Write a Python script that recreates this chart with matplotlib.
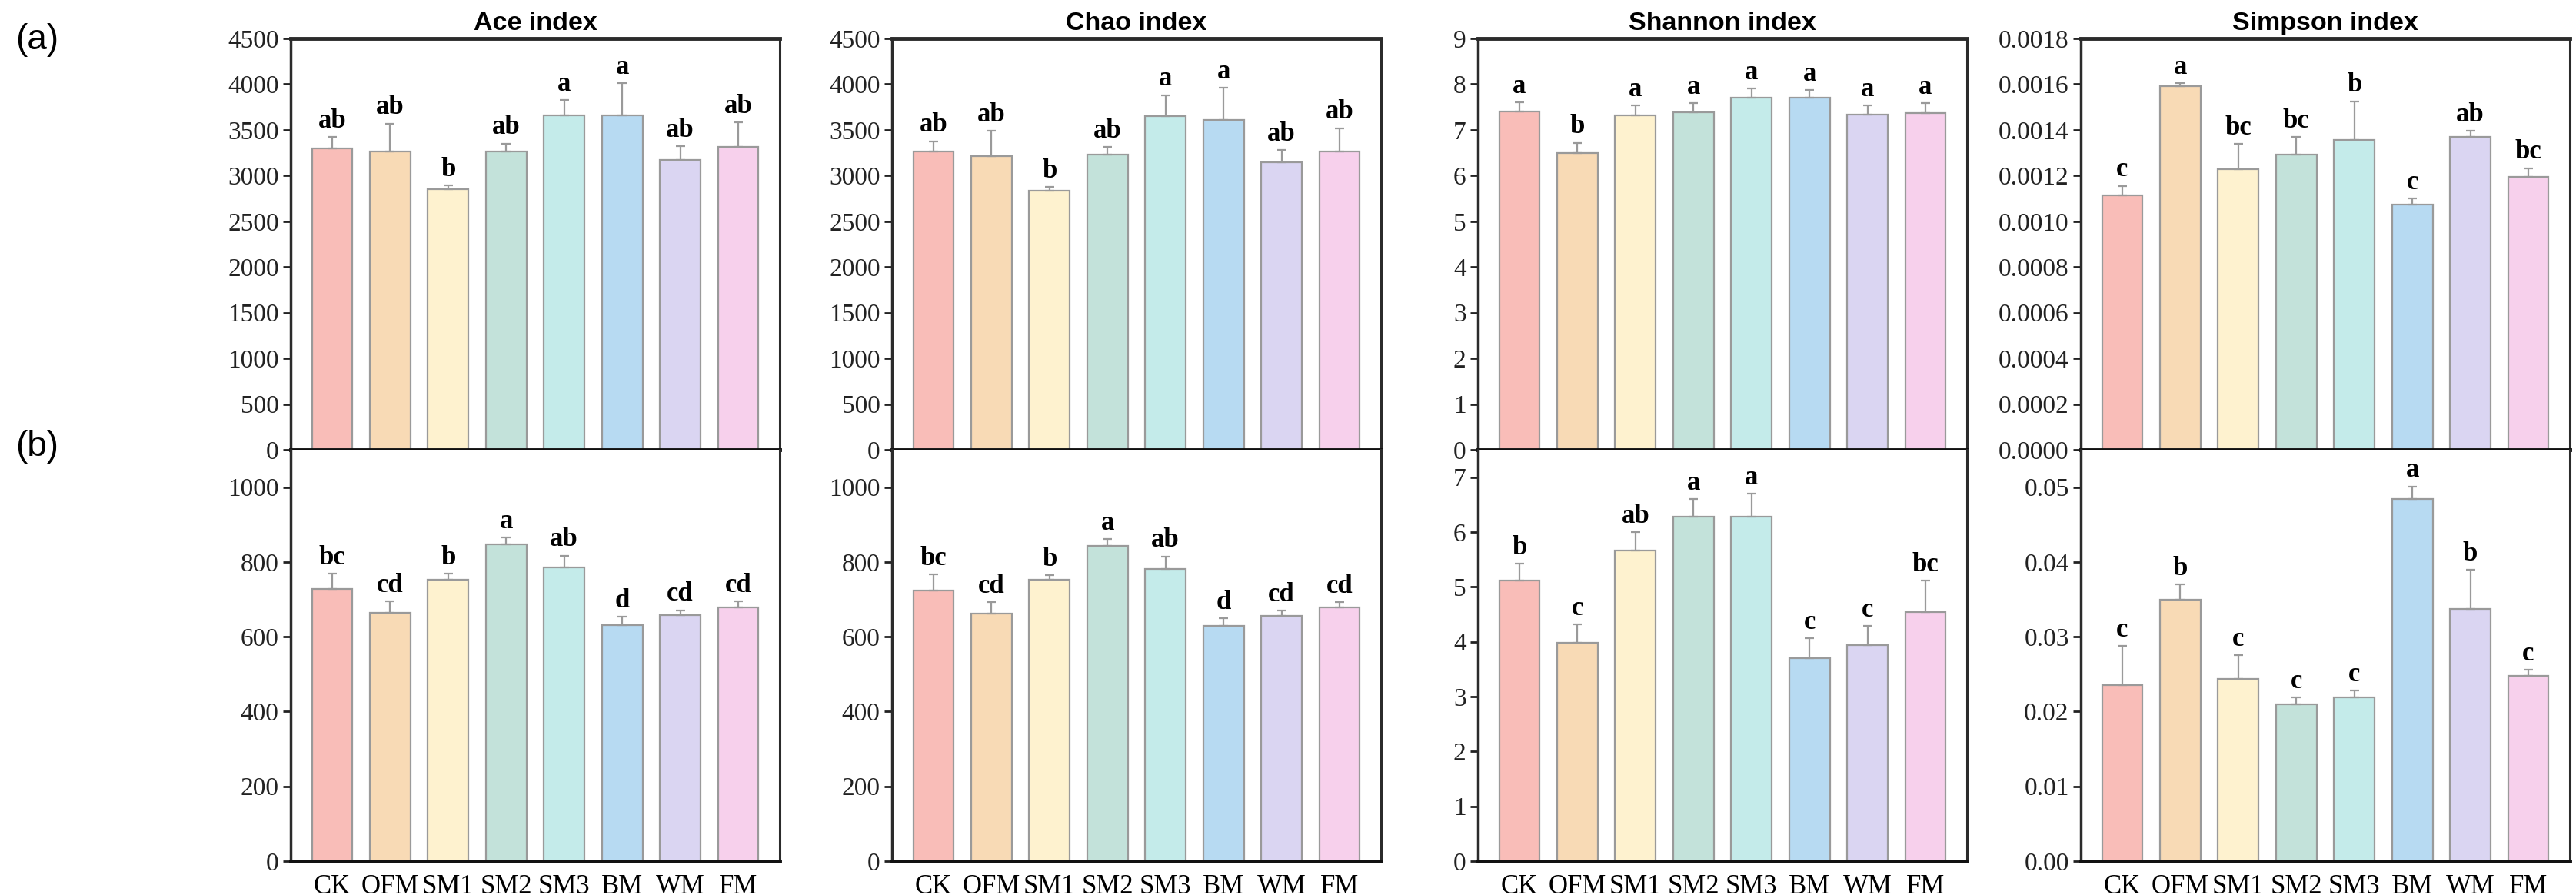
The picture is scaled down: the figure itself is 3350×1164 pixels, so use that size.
import matplotlib
matplotlib.use('Agg')
import matplotlib.pyplot as plt
import numpy as np
from matplotlib.ticker import FormatStrFormatter

groups = ['CK', 'OFM', 'SM1', 'SM2', 'SM3', 'BM', 'WM', 'FM']
colors = ['#F9BDB8', '#F8DAB5', '#FEF2CF', '#C3E2DA', '#C4EBEA', '#B7DAF2', '#DAD5F2', '#F7D0EC']

titles = ['Ace index', 'Chao index', 'Shannon index', 'Simpson index']

# (a) row
ace_a = [3300, 3260, 2855, 3265, 3655, 3655, 3175, 3310]
ace_a_err = [120, 310, 35, 85, 170, 355, 145, 270]
ace_a_lab = ['ab', 'ab', 'b', 'ab', 'a', 'a', 'ab', 'ab']

chao_a = [3260, 3210, 2835, 3228, 3652, 3608, 3146, 3260]
chao_a_err = [115, 280, 40, 82, 228, 354, 132, 260]
chao_a_lab = ['ab', 'ab', 'b', 'ab', 'a', 'a', 'ab', 'ab']

shannon_a = [7.40, 6.49, 7.32, 7.39, 7.70, 7.71, 7.34, 7.36]
shannon_a_err = [0.20, 0.23, 0.21, 0.20, 0.21, 0.16, 0.19, 0.23]
shannon_a_lab = ['a', 'b', 'a', 'a', 'a', 'a', 'a', 'a']

simpson_a = [0.001112, 0.001590, 0.001229, 0.001293, 0.001357, 0.001072, 0.001370, 0.001194]
simpson_a_err = [0.000043, 0.000015, 0.000110, 0.000076, 0.000168, 0.000028, 0.000025, 0.000039]
simpson_a_lab = ['c', 'a', 'bc', 'bc', 'b', 'c', 'ab', 'bc']

# (b) row
ace_b = [727, 664, 753, 848, 785, 631, 657, 678]
ace_b_err = [42, 31, 16, 18, 32, 23, 14, 17]
ace_b_lab = ['bc', 'cd', 'b', 'a', 'ab', 'd', 'cd', 'cd']

chao_b = [724, 663, 753, 843, 781, 629, 655, 678]
chao_b_err = [42, 29, 12, 18, 34, 21, 15, 14]
chao_b_lab = ['bc', 'cd', 'b', 'a', 'ab', 'd', 'cd', 'cd']

shannon_b = [5.11, 3.98, 5.67, 6.28, 6.28, 3.70, 3.94, 4.54]
shannon_b_err = [0.31, 0.34, 0.33, 0.32, 0.42, 0.36, 0.35, 0.57]
shannon_b_lab = ['b', 'c', 'ab', 'a', 'a', 'c', 'c', 'bc']

simpson_b = [0.02354, 0.03496, 0.02434, 0.02097, 0.02193, 0.04840, 0.03376, 0.02478]
simpson_b_err = [0.0052, 0.0020, 0.0032, 0.0009, 0.0009, 0.0017, 0.0052, 0.0008]
simpson_b_lab = ['c', 'b', 'c', 'c', 'c', 'a', 'b', 'c']

row_a = [(ace_a, ace_a_err, ace_a_lab), (chao_a, chao_a_err, chao_a_lab),
         (shannon_a, shannon_a_err, shannon_a_lab), (simpson_a, simpson_a_err, simpson_a_lab)]
row_b = [(ace_b, ace_b_err, ace_b_lab), (chao_b, chao_b_err, chao_b_lab),
         (shannon_b, shannon_b_err, shannon_b_lab), (simpson_b, simpson_b_err, simpson_b_lab)]

ylims_a = [(0, 4500), (0, 4500), (0, 9), (0, 0.0018)]
yticks_a = [np.arange(0, 4501, 500), np.arange(0, 4501, 500), np.arange(0, 10, 1), np.arange(0, 0.00181, 0.0002)]
fmt_a = ['%d', '%d', '%d', '%.4f']
ylims_b = [(0, 1100), (0, 1100), (0, 7.5), (0, 0.055)]
yticks_b = [np.arange(0, 1001, 200), np.arange(0, 1001, 200), np.arange(0, 8, 1), np.arange(0, 0.0501, 0.01)]
fmt_b = ['%d', '%d', '%d', '%.2f']

W, H = 3350, 1164
fig = plt.figure(figsize=(W / 100, H / 100), dpi=100)

SERIF = ['Liberation Serif', 'DejaVu Serif']
SANS = ['Liberation Sans', 'DejaVu Sans']

lefts = [378, 1160, 1922, 2706]
width = 636
top, mid, bot = 50, 585, 1120

x = np.arange(len(groups))
spine_col = '#2b2b2b'


def draw(ax, vals, errs, labs, ylim, yticks, fmt, is_top):
    ax.bar(x, vals, width=0.70, color=colors, edgecolor='#9a9a9a', linewidth=1.6, zorder=2)
    ax.errorbar(x, vals, yerr=[np.zeros(len(vals)), errs], fmt='none', ecolor='#9a9a9a',
                elinewidth=1.6, capsize=4, capthick=1.6, zorder=3)
    span = ylim[1] - ylim[0]
    for xi, v, e, l in zip(x, vals, errs, labs):
        ax.text(xi, v + e + span * 0.008, l, ha='center', va='bottom', fontsize=25,
                fontweight='bold', family=SERIF, zorder=4)
    ax.set_xlim(-0.715, 7.715)
    ax.set_ylim(*ylim)
    ax.set_yticks(yticks)
    ax.yaxis.set_major_formatter(FormatStrFormatter(fmt))
    ax.tick_params(axis='y', direction='out', length=7, width=2, labelsize=24, pad=4, colors='#222222')
    for lab in ax.get_yticklabels():
        lab.set_family(SERIF)
    if is_top:
        ax.set_xticks([])
        ax.spines['top'].set_linewidth(3.5)
        ax.spines['bottom'].set_linewidth(3.5)
        ax.spines['bottom'].set_color('#111111')
    else:
        ax.set_xticks(x)
        ax.set_xticklabels(groups, family=SERIF, fontsize=25)
        ax.tick_params(axis='x', length=0, pad=12)
        ax.spines['top'].set_visible(False)
        ax.spines['bottom'].set_linewidth(3.5)
        ax.spines['bottom'].set_color('#111111')
    ax.spines['left'].set_linewidth(2.5)
    ax.spines['right'].set_linewidth(2.2)
    for s in ['left', 'right', 'top']:
        ax.spines[s].set_color(spine_col)


for i in range(4):
    l = lefts[i] / W
    w = width / W
    ax_a = fig.add_axes([l, 1 - mid / H, w, (mid - top) / H])
    ax_b = fig.add_axes([l, 1 - bot / H, w, (bot - mid) / H])
    v, e, lb = row_a[i]
    draw(ax_a, v, e, lb, ylims_a[i], yticks_a[i], fmt_a[i], True)
    v, e, lb = row_b[i]
    draw(ax_b, v, e, lb, ylims_b[i], yticks_b[i], fmt_b[i], False)
    ax_a.set_title(titles[i], fontsize=24.5, fontweight='bold', family=SANS, pad=8)

fig.text(20 / W, 1 - 52 / H, '(a)', fontsize=33, family=SANS, ha='left', va='center')
fig.text(20 / W, 1 - 581 / H, '(b)', fontsize=33, family=SANS, ha='left', va='center')

fig.savefig('out.png', dpi=100)
